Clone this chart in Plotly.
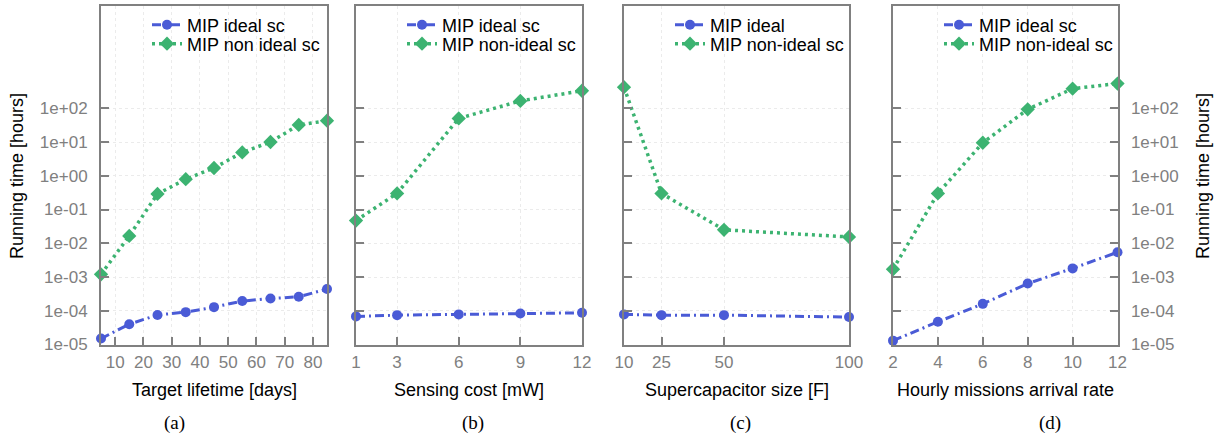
import plotly.graph_objects as go

# ---- data ----
lifetime_days = [5, 15, 25, 35, 45, 55, 65, 75, 85]
a_ideal = [1.5e-5, 4.0e-5, 7.5e-5, 9.1e-5, 1.28e-4, 1.94e-4, 2.3e-4, 2.6e-4, 4.4e-4]
a_nonideal = [1.2e-3, 0.0165, 0.29, 0.79, 1.7, 4.9, 10, 32, 43]

sensing_mw = [1, 3, 6, 9, 12]
b_ideal = [6.8e-5, 7.4e-5, 7.8e-5, 8.3e-5, 8.7e-5]
b_nonideal = [0.047, 0.30, 50, 165, 330]

supercap_f = [10, 25, 50, 100]
c_ideal = [7.8e-5, 7.4e-5, 7.4e-5, 6.5e-5]
c_nonideal = [420, 0.30, 0.025, 0.0154]

arrival_rate = [2, 4, 6, 8, 10, 12]
d_ideal = [1.3e-5, 4.7e-5, 1.6e-4, 6.4e-4, 1.8e-3, 5.4e-3]
d_nonideal = [1.7e-3, 0.30, 9.5, 93, 380, 540]

y_tickvals = [1e-5, 1e-4, 1e-3, 1e-2, 1e-1, 1e0, 1e1, 1e2]
y_ticktext = ["1e-05", "1e-04", "1e-03", "1e-02", "1e-01", "1e+00", "1e+01", "1e+02"]

panels = [
    dict(x=lifetime_days, ideal=a_ideal, non=a_nonideal,
         names=("MIP ideal sc", "MIP non ideal sc"),
         xrange=[5, 85], xticks=[10, 20, 30, 40, 50, 60, 70, 80],
         xtitle="Target lifetime [days]", caption="(a)", cap_x=174),
    dict(x=sensing_mw, ideal=b_ideal, non=b_nonideal,
         names=("MIP ideal sc", "MIP non-ideal sc"),
         xrange=[1, 12], xticks=[1, 3, 6, 9, 12],
         xtitle="Sensing cost [mW]", caption="(b)", cap_x=473),
    dict(x=supercap_f, ideal=c_ideal, non=c_nonideal,
         names=("MIP ideal", "MIP non-ideal sc"),
         xrange=[10, 100], xticks=[10, 25, 50, 100],
         xtitle="Supercapacitor size [F]", caption="(c)", cap_x=740),
    dict(x=arrival_rate, ideal=d_ideal, non=d_nonideal,
         names=("MIP ideal sc", "MIP non-ideal sc"),
         xrange=[2, 12], xticks=[2, 4, 6, 8, 10, 12],
         xtitle="Hourly missions arrival rate", caption="(d)", cap_x=1050),
]

W, H = 1220, 437
px_domains = [(101, 327), (356, 582), (624, 849), (893, 1117.5)]
y_dom = [1 - 344.5 / H, 1 - 6 / H]

BLUE = "#4a5bd6"
GREEN = "#3cb371"
FRAME = "#808080"
GRID = "#ebebeb"
FONT = "Liberation Sans, Arial, sans-serif"
TICKFONT = dict(family=FONT, size=17, color="#808080")

fig = go.Figure()
layout = dict(
    width=W, height=H,
    margin=dict(l=0, r=0, t=0, b=0),
    paper_bgcolor="white", plot_bgcolor="white",
    font=dict(family=FONT, size=18, color="black"),
    showlegend=True,
    annotations=[],
)

legend_rows = [25, 44]
leg_count = 0
for i, p in enumerate(panels):
    n = i + 1
    xa = "x" if n == 1 else f"x{n}"
    ya = "y" if n == 1 else f"y{n}"
    x0, x1 = px_domains[i]
    styles = [
        dict(line=dict(color=BLUE, width=3, dash="9px,4px,2px,4px"),
             marker=dict(symbol="circle", size=10, color=BLUE)),
        dict(line=dict(color=GREEN, width=3.5, dash="3px,4px"),
             marker=dict(symbol="diamond", size=11, color=GREEN)),
    ]
    for k, (vals, name) in enumerate(zip((p["ideal"], p["non"]), p["names"])):
        leg_count += 1
        leg = "legend" if leg_count == 1 else f"legend{leg_count}"
        fig.add_trace(go.Scatter(
            x=p["x"], y=vals, xaxis=xa, yaxis=ya, name=name, legend=leg,
            showlegend=True, mode="lines+markers", cliponaxis=False, **styles[k]))
        layout[leg] = dict(
            x=(x0 + 86 - 40) / W, y=1 - legend_rows[k] / H,
            xanchor="left", yanchor="middle", visible=True,
            bgcolor="rgba(0,0,0,0)", borderwidth=0,
            font=dict(family=FONT, size=18, color="black"),
            itemclick=False, itemdoubleclick=False)

    xkey = "xaxis" if n == 1 else f"xaxis{n}"
    ykey = "yaxis" if n == 1 else f"yaxis{n}"
    layout[xkey] = dict(
        domain=[x0 / W, x1 / W], anchor=ya, range=p["xrange"],
        tickvals=p["xticks"], ticks="inside", ticklen=8, tickwidth=2, tickcolor=FRAME,
        showline=True, linecolor=FRAME, linewidth=2, mirror=True,
        showgrid=True, gridcolor=GRID, griddash="dot", gridwidth=1,
        zeroline=False, tickfont=TICKFONT, ticklabelstandoff=1, automargin=False)
    yax = dict(
        domain=y_dom, anchor=xa, type="log", range=[-5, 5.03],
        tickvals=y_tickvals, ticktext=y_ticktext,
        ticks="inside", ticklen=8, tickwidth=2, tickcolor=FRAME,
        showline=True, linecolor=FRAME, linewidth=2, mirror=True,
        showgrid=True, gridcolor=GRID, griddash="dot", gridwidth=1,
        zeroline=False, tickfont=TICKFONT, ticklabelstandoff=8, automargin=False)
    if n in (2, 3):
        yax["showticklabels"] = False
    if n == 4:
        yax["side"] = "right"
        yax["mirror"] = "ticks"
    layout[ykey] = yax

    layout["annotations"].append(dict(
        text=p["xtitle"], xref="paper", yref="paper",
        x=(x0 + x1) / 2 / W, y=1 - 390 / H, xanchor="center", yanchor="middle",
        showarrow=False, font=dict(family=FONT, size=18, color="black")))
    layout["annotations"].append(dict(
        text=p["caption"], xref="paper", yref="paper",
        x=p["cap_x"] / W, y=1 - 423 / H, xanchor="center", yanchor="middle",
        showarrow=False, font=dict(family="Liberation Serif, Times New Roman, serif", size=19, color="black")))

for xpos in (17, 1203):
    layout["annotations"].append(dict(
        text="Running time [hours]", xref="paper", yref="paper",
        x=xpos / W, y=1 - 176 / H, xanchor="center", yanchor="middle", textangle=-90,
        showarrow=False, font=dict(family=FONT, size=18, color="black")))

fig.update_layout(**layout)
fig.write_html("out.html", config={"displayModeBar": False},
               post_script="document.body.style.margin='0';document.body.style.overflow='hidden';")
